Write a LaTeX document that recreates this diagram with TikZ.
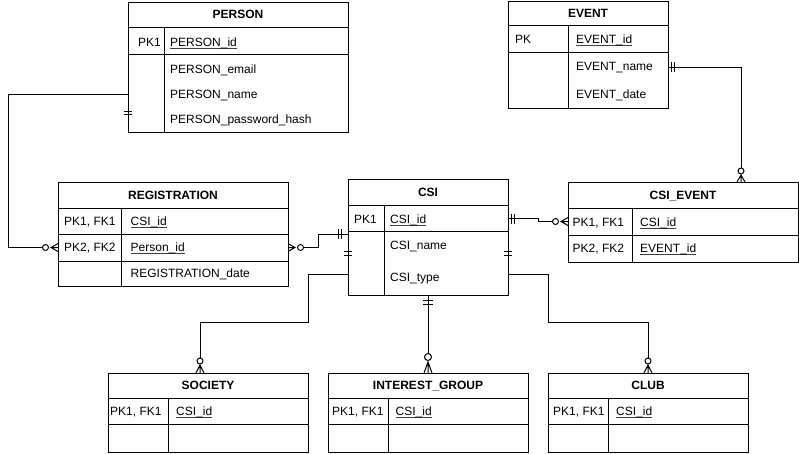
\documentclass[tikz,border=0pt]{standalone}
\usepackage{fontspec}
\setmainfont{Liberation Sans}
\usetikzlibrary{calc}
\newsavebox\ulbox
\newcommand\keyul[1]{\sbox\ulbox{#1}\rlap{\color{black!75}\rule[-2.3pt]{\wd\ulbox}{0.7pt}}\usebox\ulbox}
% table: #1 name, #2 x1, #3 y1, #4 x2, #5 y2, #6 y header line, #7 y row line, #8 x divider, #9 title
\newcommand\ertbl[9]{%
  \node[tbl, minimum width={#4-#2}, minimum height={#5-#3}] (#1) at (#2,#3) {};
  \draw[tline] (#1.west |- 0,#6) -- (#1.east |- 0,#6);
  \draw[tline] (#1.west |- 0,#7) -- (#1.east |- 0,#7);
  \draw[tline] (#8,#6) -- (#8,#5);
  \node[hdr] (#1-title) at ({(#2+#4)/2},{(#3+#6)/2+4.3}) {#9};
}
% zero-or-many, horizontal: edge x #1, y #2, outward direction #3 (1 or -1)
\newcommand\zmh[3]{%
  \draw[mk] (#1,#2-4) -- ({#1+7*(#3)},#2) -- (#1,#2+4) (#1,#2) -- ({#1+7*(#3)},#2);
  \draw[mk,fill=white] ({#1+12.5*(#3)},#2) circle[radius=3pt];
}
% zero-or-many, vertical entering top edge: x #1, top y #2, circle offset #3, radius #4, crow length #5
\newcommand\zmv[5]{%
  \draw[mk] (#1-4,#2) -- (#1,#2-#5) -- (#1+4,#2) (#1,#2) -- (#1,#2-#5);
  \draw[mk,fill=white] (#1,#2-#3) circle[radius=#4pt];
}
\begin{document}
\begin{tikzpicture}[x=1pt,y=-1pt,
  tbl/.style={draw, line width=1pt, anchor=north west, inner sep=0pt, outer sep=0pt},
  tline/.style={line width=1pt},
  hdr/.style={font=\bfseries\fontsize{12}{14}\selectfont, anchor=base, inner sep=0pt},
  cell/.style={font=\fontsize{12}{14}\selectfont, anchor=base west, inner sep=0pt},
  conn/.style={line width=1pt},
  mk/.style={line width=1pt}]
\useasboundingbox (0,0) rectangle (799,453);

% ---------- tables ----------
\ertbl{person}{128}{2}{348}{132}{27}{54}{164}{PERSON}
\node[cell] (person-k) at (138,46.3) {PK1};
\node[cell] (person-id) at (170,46.3) {\keyul{PERSON\_id}};
\node[cell] (person-em) at (170,73.3) {PERSON\_email};
\node[cell] (person-nm) at (170,98.3) {PERSON\_name};
\node[cell] (person-pw) at (170,123.3) {PERSON\_password\_hash};

\ertbl{event}{508}{1}{668}{108}{25}{52}{568}{EVENT}
\node[cell] (event-k) at (515,43.8) {PK};
\node[cell] (event-id) at (576,43.8) {\keyul{EVENT\_id}};
\node[cell] (event-nm) at (576,70.8) {EVENT\_name};
\node[cell] (event-dt) at (576,98.3) {EVENT\_date};

\ertbl{reg}{58}{182}{288}{286}{208}{234}{121}{REGISTRATION}
\draw[tline] (reg.west |- 0,261) -- (reg.east |- 0,261);
\node[cell] (reg-k1) at (64,225.8) {PK1, FK1};
\node[cell] (reg-k2) at (64,251.8) {PK2, FK2};
\node[cell] (reg-csi) at (130.5,225.8) {\keyul{CSI\_id}};
\node[cell] (reg-pid) at (130.5,251.8) {\keyul{Person\_id}};
\node[cell] (reg-dt) at (130.5,277.6) {REGISTRATION\_date};

\ertbl{csi}{348}{179}{508}{295}{205}{231}{384}{CSI}
\node[cell] (csi-k) at (354,223.3) {PK1};
\node[cell] (csi-id) at (390,223.3) {\keyul{CSI\_id}};
\node[cell] (csi-nm) at (390,249.3) {CSI\_name};
\node[cell] (csi-ty) at (390,281) {CSI\_type};

\ertbl{csiev}{568}{182}{798}{262}{208}{235}{632}{CSI\_EVENT}
\node[cell] (csiev-k1) at (572.5,226) {PK1, FK1};
\node[cell] (csiev-k2) at (572.5,252.3) {PK2, FK2};
\node[cell] (csiev-csi) at (640,226) {\keyul{CSI\_id}};
\node[cell] (csiev-ev) at (640,252.3) {\keyul{EVENT\_id}};

\ertbl{soc}{108}{373}{308}{452}{398}{424}{168}{SOCIETY}
\node[cell] (soc-k) at (110,415.8) {PK1, FK1};
\node[cell] (soc-id) at (176,415.8) {\keyul{CSI\_id}};

\ertbl{ig}{328}{373}{528}{452}{398}{424}{388}{INTEREST\_GROUP}
\node[cell] (ig-k) at (332,415.8) {PK1, FK1};
\node[cell] (ig-id) at (395.5,415.8) {\keyul{CSI\_id}};

\ertbl{club}{548}{373}{748}{452}{398}{424}{608}{CLUB}
\node[cell] (club-k) at (553,415.8) {PK1, FK1};
\node[cell] (club-id) at (616,415.8) {\keyul{CSI\_id}};

% ---------- connectors ----------
% PERSON -- REGISTRATION
\draw[conn] (person.west |- 0,94) -- (8,94) |- ($(reg.west |- 0,247.5)+(-15.5,0)$);
\draw[mk] (124,111) -- (132,111) (124,114.5) -- (132,114.5);
\zmh{58}{247.5}{-1}

% REGISTRATION -- CSI
\draw[conn] ($(reg.east |- 0,247.5)+(15.5,0)$) -- (318,247.5) |- (csi.west |- 0,234);
\zmh{288}{247.5}{1}
\draw[mk] (338.3,229) -- (338.3,239) (341.7,229) -- (341.7,239);

% CSI -- CSI_EVENT
\draw[conn] (csi.east |- 0,218.5) -- (538,218.5) |- ($(csiev.west |- 0,221.5)+(-15.5,0)$);
\draw[mk] (511,213.5) -- (511,223.5) (514,213.5) -- (514,223.5);
\zmh{568}{221.5}{-1}

% EVENT -- CSI_EVENT
\draw[conn] (event.east |- 0,67) -| ($(csiev.north west)+(173,-14)$);
\draw[mk] (671,62) -- (671,72) (674,62) -- (674,72);
\zmv{741}{182}{11}{3}{7}

% CSI -- SOCIETY
\draw[conn] (csi.west |- 0,274) -- (308,274) -- (308,322) -| ($(soc.north)+(-8,-15)$);
\draw[mk] (344,251.5) -- (352,251.5) (344,255) -- (352,255);
\zmv{200}{373}{12}{3}{8}

% CSI -- INTEREST_GROUP
\draw[conn] (csi.south -| 428,0) -- ($(ig.north west)+(100,-19.5)$);
\draw[mk] (423,300) -- (433,300) (423,304) -- (433,304);
\zmv{428}{373}{16}{3.5}{11}

% CSI -- CLUB
\draw[conn] (csi.east |- 0,274) -- (548,274) -- (548,322) -| ($(club.north)+(-0,-15)$);
\draw[mk] (504,251.5) -- (512,251.5) (504,255) -- (512,255);
\zmv{648}{373}{12}{3}{8}
\end{tikzpicture}
\end{document}
